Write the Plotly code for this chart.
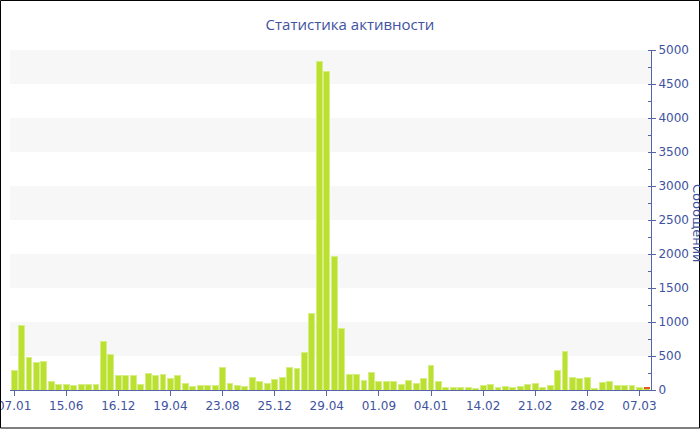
"""Activity statistics bar chart (messages per day)."""

import plotly.graph_objects as go

# Messages per day
messages = [
    284, 946, 480, 402, 422, 127, 88, 83, 69, 78, 74, 78, 720, 515, 206, 220,
    206, 78, 240, 220, 230, 176, 206, 103, 49, 59, 59, 69, 328, 103, 59, 54,
    186, 123, 103, 152, 186, 333, 319, 554, 1127, 4834, 4691, 1970, 905, 225,
    225, 142, 255, 132, 127, 118, 88, 147, 98, 176, 358, 127, 39, 34, 34, 34,
    29, 64, 83, 34, 49, 39, 54, 74, 98, 39, 59, 284, 569, 181, 176, 191, 29,
    108, 118, 69, 59, 64, 39, 26,
]
# Extra part of the last (current) day, stacked in red
today_extra = [14]

tick_labels = [
    "07.01", "15.06", "16.12", "19.04", "23.08", "25.12", "29.04",
    "01.09", "04.01", "14.02", "21.02", "28.02", "07.03",
]
tick_step = 7

days = list(range(len(messages)))

BAR_COLOR = "#bbe030"
BAR_EDGE = "#d6ee86"
TODAY_COLOR = "#e8562a"
AXIS_COLOR = "#5565a8"
TEXT_COLOR = "#4052a0"
BAND_COLOR = "#f7f7f7"

fig = go.Figure()

fig.add_trace(
    go.Bar(
        x=days,
        y=messages,
        marker={"color": BAR_COLOR, "line": {"color": BAR_EDGE, "width": 1}},
        hovertemplate="%{y}<extra></extra>",
    )
)
fig.add_trace(
    go.Bar(
        x=days[-1:],
        y=today_extra,
        marker={"color": TODAY_COLOR, "line": {"width": 0}},
        hovertemplate="%{y}<extra></extra>",
    )
)

# Alternating light bands behind the bars
for lo in range(500, 5000, 1000):
    fig.add_shape(
        type="rect",
        xref="paper",
        yref="y",
        x0=0,
        x1=1,
        y0=lo,
        y1=lo + 500,
        fillcolor=BAND_COLOR,
        line={"width": 0},
        layer="below",
    )

# Thin black frame round the whole picture
fig.add_shape(
    type="rect",
    xref="paper",
    yref="paper",
    x0=-0.0148,
    x1=1.0757,
    y0=-0.1118,
    y1=1.1456,
    line={"color": "black", "width": 1},
    fillcolor="rgba(0,0,0,0)",
)

fig.add_annotation(
    text="Сообщений",
    xref="paper",
    yref="paper",
    x=1.0725,
    y=0.49,
    xanchor="center",
    yanchor="middle",
    showarrow=False,
    textangle=90,
    font={"family": "DejaVu Sans", "size": 13, "color": TEXT_COLOR},
)

fig.update_layout(
    width=700,
    height=430,
    margin={"l": 10, "r": 49, "t": 50, "b": 40, "autoexpand": False},
    barmode="stack",
    bargap=0.2,
    showlegend=False,
    plot_bgcolor="white",
    paper_bgcolor="white",
    title={
        "text": "Статистика активности",
        "x": 0.5,
        "xanchor": "center",
        "y": 0.942,
        "yanchor": "middle",
        "font": {"family": "Open Sans", "size": 15, "color": TEXT_COLOR},
    },
    font={"family": "DejaVu Sans", "size": 12, "color": TEXT_COLOR},
)

fig.update_xaxes(
    range=[-0.55, len(messages) - 0.45],
    tickvals=days[::tick_step],
    ticktext=tick_labels,
    automargin=False,
    ticklabeloverflow="allow",
    showgrid=False,
    zeroline=False,
    showline=True,
    linecolor=AXIS_COLOR,
    linewidth=1,
    ticks="outside",
    ticklen=5,
    tickcolor=AXIS_COLOR,
    tickfont={"size": 12, "color": TEXT_COLOR},
)

fig.update_yaxes(
    side="right",
    range=[0, 5000],
    dtick=500,
    automargin=False,
    ticklabeloverflow="allow",
    showgrid=False,
    zeroline=False,
    showline=True,
    linecolor=AXIS_COLOR,
    linewidth=1,
    ticks="outside",
    ticklen=4,
    tickcolor=AXIS_COLOR,
    tickfont={"size": 12, "color": TEXT_COLOR},
    minor={"dtick": 250, "ticks": "inside", "ticklen": 3, "tickcolor": AXIS_COLOR},
)

# The page body has a default 8px margin; drop it so the chart fills the window
fig.write_html(
    "out.html",
    config={"displayModeBar": False},
    post_script="document.body.style.margin = '0';",
)
